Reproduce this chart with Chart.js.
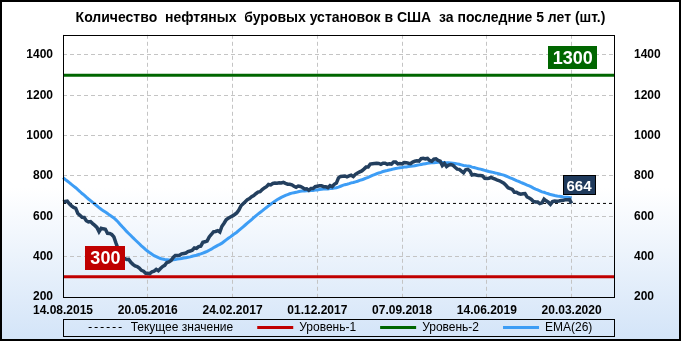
<!DOCTYPE html>
<html>
<head>
<meta charset="utf-8">
<script src="https://cdn.jsdelivr.net/npm/chart.js@4"></script>
<style>
  html, body { margin: 0; padding: 0; background: #fff; }
  canvas { display: block; }
</style>
</head>
<body>
<canvas id="canvas" width="681" height="341"></canvas>
<script>
let ctx = document.getElementById('canvas').getContext('2d');

// weekly US oil rig count, 14.08.2015 .. 20.03.2020
const startDate = '2015-08-14';
const totalWeeks = 261; // axis runs ~20 weeks past the last value
const tickLabels = ['14.08.2015', '20.05.2016', '24.02.2017', '01.12.2017', '07.09.2018', '14.06.2019', '20.03.2020'];
const yTicks = [200, 400, 600, 800, 1000, 1200, 1400];

const rigs = [
  672,674,675,662,652,644,640,614,605,595,
  594,578,572,574,564,555,545,524,541,538,
  536,516,515,510,498,467,439,413,400,392,
  386,387,372,362,354,351,343,332,328,318,
  318,316,325,328,337,330,341,351,357,371,
  374,381,396,406,406,407,414,416,418,425,
  428,432,443,441,450,452,471,474,477,498,
  510,523,525,529,522,551,566,583,591,597,
  602,609,617,631,652,662,672,683,688,697,
  703,712,720,722,733,741,747,758,756,763,
  765,764,766,765,768,763,759,759,756,749,
  744,750,748,743,736,737,729,738,738,747,
  749,751,751,747,747,742,752,747,759,765,
  791,798,799,800,796,800,804,797,808,815,
  820,825,834,844,844,859,861,862,863,862,
  858,863,863,858,861,859,869,869,860,862,
  860,867,866,863,861,869,873,875,874,886,
  888,885,887,877,873,883,885,877,873,852,
  862,847,854,857,853,843,834,833,824,816,
  831,833,825,805,807,805,802,802,800,789,
  788,789,793,788,784,779,776,770,764,754,
  742,738,733,719,719,713,710,712,713,696,
  691,684,674,671,671,663,667,685,677,670,
  659,673,676,675,676,678,679,682,682,683,
  664
];

const ema26 = [
  792,783,775,767,758,750,742,732,723,713,
  705,695,686,678,669,661,652,643,635,628,
  621,614,606,599,592,582,572,560,548,537,
  525,515,505,494,484,474,464,454,445,435,
  427,419,412,405,400,395,391,388,386,385,
  384,384,385,386,388,389,391,393,395,397,
  399,402,405,407,411,414,418,422,426,432,
  437,444,450,456,461,467,475,483,491,498,
  506,514,521,530,539,548,557,566,575,584,
  593,602,611,619,627,636,644,652,660,668,
  675,682,688,694,699,704,708,712,715,717,
  719,722,724,725,726,727,727,728,728,730,
  731,733,734,735,736,736,738,738,740,742,
  745,749,753,757,759,762,766,768,771,774,
  778,781,785,789,793,798,803,807,811,815,
  818,822,825,827,830,832,835,837,839,841,
  842,844,845,847,848,849,851,853,855,857,
  859,861,863,864,865,866,867,868,869,867,
  867,865,865,864,863,862,860,858,855,852,
  851,849,848,844,842,839,836,834,831,828,
  825,822,820,818,815,813,810,807,804,800,
  796,791,787,782,777,773,768,764,760,755,
  751,746,740,735,731,726,721,719,715,712,
  708,706,703,701,699,698,696,695,694,693,
  691
];

const currentValue = 664;
const level1 = 300;
const level2 = 1300;

// weekly category labels
const weeks = [];
const t0 = new Date(startDate + 'T00:00:00Z').getTime();
for (let i = 0; i < totalWeeks; i++) {
  const d = new Date(t0 + i * 7 * 86400000);
  weeks.push(String(d.getUTCDate()).padStart(2, '0') + '.' +
    String(d.getUTCMonth() + 1).padStart(2, '0') + '.' + d.getUTCFullYear());
}

const flat = v => [{x: weeks[0], y: v}, {x: weeks[totalWeeks - 1], y: v}];

const tickFont = {family: 'Liberation Sans, Arial, sans-serif', size: 12, weight: 'bold'};

// value boxes (centre in week / value units)
const valueBoxes = [
  {text: String(level1), week: 20, value: 393, w: 40, h: 24, bg: '#c00000', size: 18},
  {text: String(level2), week: 240.5, value: 1387, w: 49, h: 23, bg: '#006600', size: 18},
  {text: String(currentValue), week: 243.5, value: 753, w: 33, h: 20, bg: '#1f3a5c', size: 15, border: '#000'}
];

const decor = {
  id: 'decor',
  afterLayout(chart) {
    // let the legend box reach up under the date labels
    chart.legend.top = chart.chartArea.bottom + 0.5;
    chart.legend.height = chart.legend.bottom - chart.legend.top;
  },
  beforeDraw(chart) {
    const c = chart.ctx;
    const g = c.createLinearGradient(0, 0, 0, chart.height);
    g.addColorStop(0, '#ffffff');
    g.addColorStop(0.55, '#ffffff');
    g.addColorStop(1, '#d3e4f8');
    c.save();
    c.fillStyle = g;
    c.fillRect(0, 0, chart.width, chart.height);
    c.restore();
  },
  afterDraw(chart) {
    const c = chart.ctx;
    const a = chart.chartArea;
    const x = chart.scales.x, y = chart.scales.y;
    c.save();
    // plot frame
    c.strokeStyle = '#000';
    c.lineWidth = 1;
    c.strokeRect(Math.round(a.left) + 0.5, Math.round(a.top) + 0.5, Math.round(a.right - a.left), Math.round(a.bottom - a.top));
    // legend frame
    const hb = chart.legend.legendHitBoxes;
    if (hb && hb.length) {
      const top = Math.round(hb[0].top) - 3;
      c.strokeRect(Math.round(a.left) + 0.5, top + 0.5, Math.round(a.right - a.left), hb[0].height + 5);
    }
    // value boxes
    valueBoxes.forEach(b => {
      const cx = x.getPixelForValue(b.week);
      const cy = y.getPixelForValue(b.value);
      const l = Math.round(cx - b.w / 2), tp = Math.round(cy - b.h / 2);
      c.fillStyle = b.bg;
      c.fillRect(l, tp, b.w, b.h);
      if (b.border) {
        c.strokeStyle = b.border;
        c.strokeRect(l + 0.5, tp + 0.5, b.w - 1, b.h - 1);
      }
      c.fillStyle = '#fff';
      c.font = 'bold ' + b.size + 'px "Liberation Sans", Arial, sans-serif';
      c.textAlign = 'center';
      c.textBaseline = 'middle';
      c.fillText(b.text, cx, cy + 1);
    });
    // outer frame
    c.lineWidth = 2;
    c.strokeRect(1, 1, chart.width - 2, chart.height - 2);
    c.restore();
  }
};

function init() {
  let chart = new Chart(ctx, {
    type: 'line',
    data: data,
    options: options,
    plugins: [decor]
  });
}

const data = {
  labels: weeks,
  datasets: [{
    label: 'Нефтяные буровые',
    data: rigs,
    borderColor: '#233f5e',
    borderWidth: 3.5,
    pointRadius: 0,
    fill: false
  }, {
    label: 'Текущее значение',
    data: flat(currentValue),
    borderColor: '#000',
    backgroundColor: '#000',
    borderWidth: 1,
    borderDash: [3, 3],
    pointRadius: 0
  }, {
    label: 'Уровень-1',
    data: flat(level1),
    borderColor: '#c00000',
    backgroundColor: '#c00000',
    borderWidth: 3,
    pointRadius: 0
  }, {
    label: 'Уровень-2',
    data: flat(level2),
    borderColor: '#006600',
    backgroundColor: '#006600',
    borderWidth: 3,
    pointRadius: 0
  }, {
    label: 'EMA(26)',
    data: ema26,
    borderColor: '#3d9df5',
    backgroundColor: '#3d9df5',
    borderWidth: 3,
    pointRadius: 0
  }]
};

const options = {
  responsive: false,
  animation: false,
  layout: {
    padding: {left: 0, right: 0, top: 0, bottom: 0}
  },
  scales: {
    x: {
      type: 'category',
      afterBuildTicks: axis => { axis.ticks = axis.ticks.filter(t => t.value % 40 === 0); },
      afterFit: axis => { axis.height = 20; },
      ticks: {
        autoSkip: false,
        maxRotation: 0,
        color: '#000',
        font: tickFont,
        padding: 6,
        callback: function (v) { return tickLabels[Math.round(v / 40)]; }
      },
      grid: {color: '#c4c4c4', drawTicks: false},
      border: {display: false, dash: [4, 3]}
    },
    y: {
      position: 'left',
      min: 200,
      max: 1500,
      afterBuildTicks: axis => { axis.ticks = yTicks.map(v => ({value: v})); },
      afterFit: axis => { axis.width = 63; },
      ticks: {color: '#000', font: tickFont, padding: 10, callback: v => String(v)},
      grid: {color: '#c4c4c4', drawTicks: false},
      border: {display: false, dash: [4, 3]}
    },
    y2: {
      position: 'right',
      min: 200,
      max: 1500,
      afterBuildTicks: axis => { axis.ticks = yTicks.map(v => ({value: v})); },
      afterFit: axis => { axis.width = 67; },
      ticks: {color: '#000', font: tickFont, padding: 12, callback: v => String(v)},
      grid: {display: false},
      border: {display: false}
    }
  },
  plugins: {
    title: {
      display: true,
      text: 'Количество  нефтяных  буровых установок в США  за последние 5 лет (шт.)',
      color: '#000',
      font: {family: '"Liberation Sans", Arial, sans-serif', size: 14, weight: 'bold'},
      padding: {top: 10, bottom: 8}
    },
    legend: {
      position: 'bottom',
      maxHeight: 24,
      labels: {
        color: '#000',
        font: {family: 'Liberation Sans, Arial, sans-serif', size: 12},
        usePointStyle: true,
        pointStyleWidth: 36,
        padding: 24,
        generateLabels: chart => chart.data.datasets.slice(1).map((ds, i) => ({
          text: ds.label,
          datasetIndex: i + 1,
          fillStyle: ds.borderColor,
          strokeStyle: ds.borderColor,
          lineWidth: ds.borderWidth,
          lineDash: ds.borderDash || [],
          pointStyle: 'line',
          fontColor: '#000',
          hidden: false
        }))
      }
    },
    tooltip: {enabled: false}
  }
};

init();
</script>
</body>
</html>
